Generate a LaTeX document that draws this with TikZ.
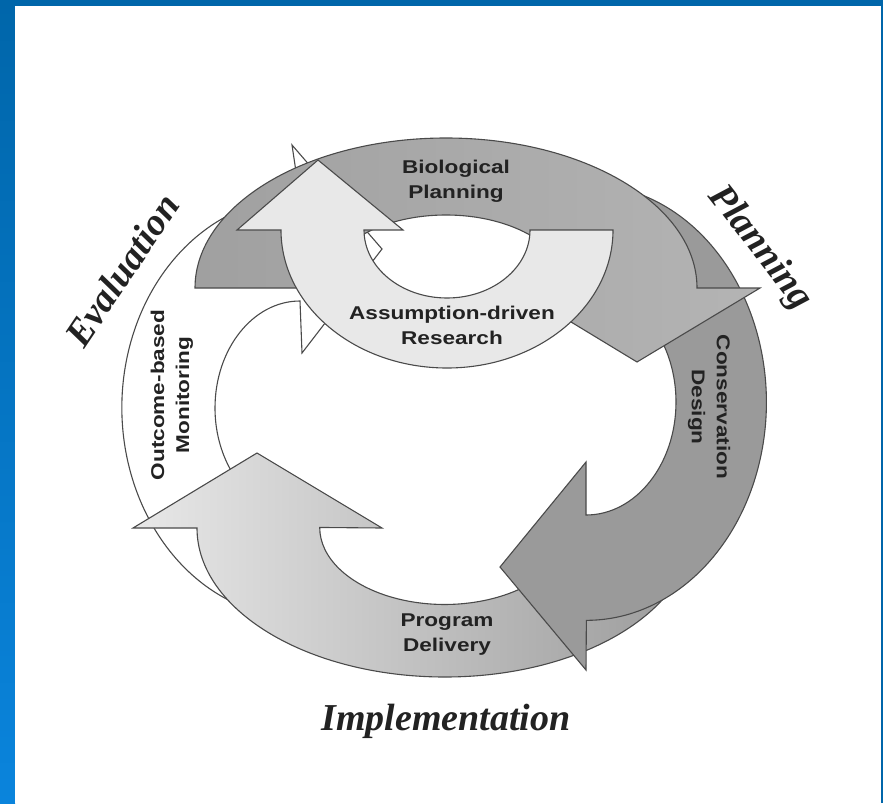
\documentclass[tikz,border=0pt]{standalone}
\usepackage{fontspec}
\usepackage{graphicx}
\setmainfont{Liberation Serif}
\setsansfont{Liberation Sans}

\definecolor{frameblue}{HTML}{0066AA}
\definecolor{frameblue2}{HTML}{0A84DC}
\definecolor{rim}{HTML}{4A4A4A}
\definecolor{biodark}{HTML}{A0A0A0}
\definecolor{biolight}{HTML}{B4B4B4}
\definecolor{consgray}{HTML}{9A9A9A}
\definecolor{resgray}{HTML}{E8E8E8}
\definecolor{proglight}{HTML}{E8E8E8}
\definecolor{progdark}{HTML}{9E9E9E}
\definecolor{ink}{HTML}{222222}

\newcommand{\wide}[1]{\scalebox{1.22}[1]{#1}}

\tikzset{
  band/.style={draw=rim, line width=1.1pt, line join=miter},
  stage/.style={font=\sffamily\bfseries\fontsize{18.5}{25}\selectfont,
    text=ink, align=center, inner sep=0pt},
  phase/.style={font=\rmfamily\bfseries\itshape\fontsize{38}{40}\selectfont,
    text=ink, inner sep=0pt}
}

\begin{document}
\begin{tikzpicture}[x=1pt, y=-1pt]

  % Frame of the slide
  \useasboundingbox (0,0) rectangle (883,803);
  \fill[frameblue] (0,0) rectangle (883,803);
  \shade[top color=frameblue, bottom color=frameblue2] (0,0) rectangle (15,803);
  \fill[white] (15,6) rectangle (881,803);

  % Outcome-based monitoring arrow
  \path[band, fill=white]
    (239,605) arc[start angle=250, end angle=90, x radius=178pt, y radius=210pt]
    -- (292,145) -- (382,249) -- (302,353) -- (300,301)
    arc[start angle=90, end angle=250, x radius=85pt, y radius=107pt]
    -- cycle;

  % Program delivery arrow
  \path[band, left color=proglight, right color=progdark]
    (197,528) arc[start angle=180, end angle=335, x radius=248pt, y radius=149pt]
    -- (558,560)
    arc[start angle=335, end angle=180, x radius=125pt, y radius=77pt]
    -- (382,528) -- (257,453) -- (133,528) -- cycle;

  % Conservation design arrow
  \path[band, fill=consgray]
    (642,195) arc[start angle=72, end angle=-90, x radius=180pt, y radius=218pt]
    -- (586,670) -- (500,567) -- (586,462) -- (586,515)
    arc[start angle=-90, end angle=72, x radius=90pt, y radius=113pt]
    -- cycle;

  % Biological planning arrow
  \path[band, left color=biodark, right color=biolight]
    (195,288) arc[start angle=180, end angle=0, x radius=251pt, y radius=150pt]
    -- (760,288) -- (637,362) -- (515,288) -- (568,288)
    arc[start angle=0, end angle=180, x radius=122pt, y radius=73pt]
    -- cycle;

  % Assumption-driven research arrow
  \path[band, fill=resgray]
    (613,230) arc[start angle=0, end angle=-180, x radius=166pt, y radius=138pt]
    -- (237,230) -- (318,160) -- (403,230) -- (364,230)
    arc[start angle=180, end angle=360, x radius=83pt, y radius=68pt]
    -- cycle;

	\node[stage] (bio) at (456,181) {\wide{Biological}\\\wide{Planning}};
	\node[stage] (research) at (452,325) {\wide{Assumption-driven}\\\wide{Research}};
	\node[stage, rotate=-90] (design) at (709,407) {\wide{Conservation}\\\wide{Design}};
	\node[stage] (delivery) at (447,635) {\wide{Program}\\\wide{Delivery}};
	\node[stage, rotate=90] (monitoring) at (172,395) {\wide{Outcome-based}\\\wide{Monitoring}};

	\node[phase, rotate=56] (evaluation) at (122,270) {Evaluation};
	\node[phase, rotate=-52] (planning) at (760,248) {Planning};
	\node[phase] (implementation) at (446,721) {Implementation};

\end{tikzpicture}
\end{document}
